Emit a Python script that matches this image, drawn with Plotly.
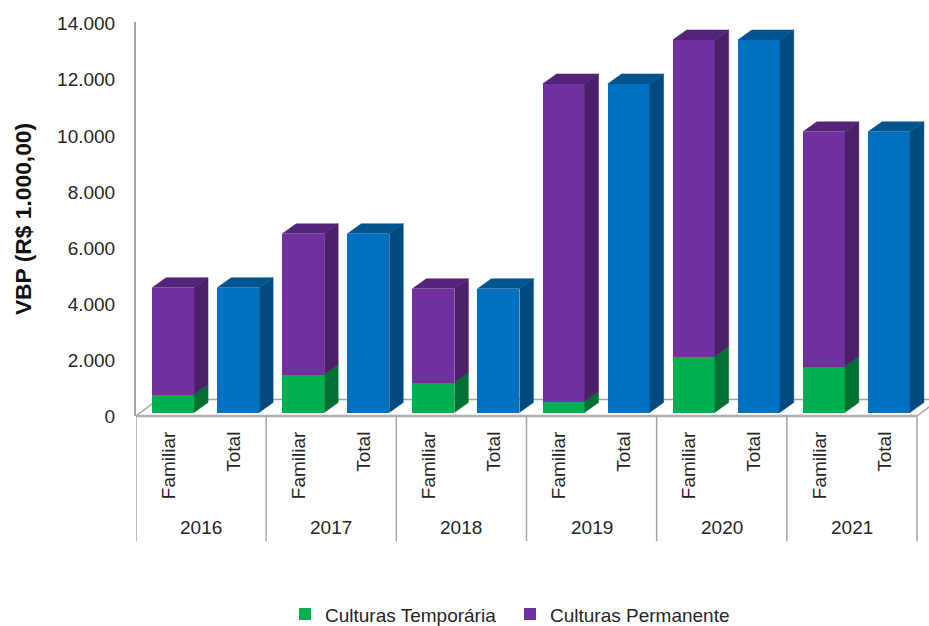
import plotly.graph_objects as go

# ---- data ----
years = ["2016", "2017", "2018", "2019", "2020", "2021"]
bar_labels = ["Familiar", "Total"]
temporaria = [640, 1355, 1070, 390, 1996, 1640]
familiar_total = [4456, 6381, 4420, 11729, 13298, 10018]
total = [4456, 6381, 4420, 11729, 13298, 10018]
y_ticks = [0, 2000, 4000, 6000, 8000, 10000, 12000, 14000]
y_tick_text = ["0", "2.000", "4.000", "6.000", "8.000", "10.000", "12.000", "14.000"]

# ---- style ----
W, H = 929, 626
L, T, B = 136, 22, 626 - 416.5
SLOT_PX = 65.08
Y_PX = 0.02805
plot_h = H - T - B
plot_w = W - L
GREEN, GREEN_S = "#00B050", "#007033"
PURPLE, PURPLE_T, PURPLE_S = "#7030A0", "#54247A", "#4A2068"
BLUE, BLUE_T, BLUE_S = "#0070C0", "#00558F", "#004A80"
AXIS = "#A6A6A6"
TXT = "#262626"
FONT = "Liberation Sans, Arial, sans-serif"
FS = 19

DX = 14 / SLOT_PX      # depth of a box, x units
DY = 10 / Y_PX         # depth of a box, y units
FLOOR = 3.5 / Y_PX     # bars stand a little behind the front edge
SHIFT = 4.5 / SLOT_PX  # bar offset inside its slot
BW = 42 / SLOT_PX
FLOOR_BACK = 16.5 / Y_PX

fam_x = [2 * i + SHIFT for i in range(len(years))]
tot_x = [2 * i + 1 + SHIFT for i in range(len(years))]
permanente = [t - g for t, g in zip(familiar_total, temporaria)]

fig = go.Figure()


def poly(xs, ys, color):
    fig.add_trace(go.Scatter(x=xs, y=ys, mode="lines", fill="toself", fillcolor=color,
                             line=dict(color=color, width=0.5), hoverinfo="skip",
                             showlegend=False))


fig.add_trace(go.Bar(x=fam_x, y=temporaria, base=[FLOOR] * 6, width=BW,
                     marker=dict(color=GREEN, line_width=0), name="Culturas Temporária"))
fig.add_trace(go.Bar(x=fam_x, y=permanente, base=[FLOOR + g for g in temporaria], width=BW,
                     marker=dict(color=PURPLE, line_width=0), name="Culturas Permanente"))
fig.add_trace(go.Bar(x=tot_x, y=total, base=[FLOOR] * 6, width=BW,
                     marker=dict(color=BLUE, line_width=0), name="Total", showlegend=False))

for x, g, t in zip(fam_x, temporaria, familiar_total):
    r = x + BW / 2
    l = x - BW / 2
    poly([r, r + DX, r + DX, r], [FLOOR, FLOOR + DY, FLOOR + g + DY, FLOOR + g], GREEN_S)
    poly([r, r + DX, r + DX, r], [FLOOR + g, FLOOR + g + DY, FLOOR + t + DY, FLOOR + t], PURPLE_S)
    poly([l, l + DX, r + DX, r], [FLOOR + t, FLOOR + t + DY, FLOOR + t + DY, FLOOR + t], PURPLE_T)
for x, t in zip(tot_x, total):
    r = x + BW / 2
    l = x - BW / 2
    poly([r, r + DX, r + DX, r], [FLOOR, FLOOR + DY, FLOOR + t + DY, FLOOR + t], BLUE_S)
    poly([l, l + DX, r + DX, r], [FLOOR + t, FLOOR + t + DY, FLOOR + t + DY, FLOOR + t], BLUE_T)

x_left = -0.5
x_right = 2 * len(years) - 0.5
x_max = x_left + (W - L) / SLOT_PX
wall = 22 / SLOT_PX

shapes = [
    dict(type="line", layer="below", xref="x", yref="y", x0=x_left, y0=0, x1=x_left + wall, y1=FLOOR_BACK,
         line=dict(color=AXIS, width=1.5)),
    dict(type="line", layer="below", xref="x", yref="y", x0=x_left + wall, y0=FLOOR_BACK, x1=x_max, y1=FLOOR_BACK,
         line=dict(color=AXIS, width=1.5)),
    dict(type="line", layer="below", xref="x", yref="y", x0=x_right, y0=0, x1=x_right + wall, y1=FLOOR_BACK,
         line=dict(color=AXIS, width=1.5)),
    dict(type="line", xref="x", yref="paper", x0=x_left, y0=0, x1=x_right, y1=0,
         line=dict(color="#B0B0B0", width=2.5)),
]
sep_bottom = -(542 - 416.5) / plot_h
for i in range(len(years) + 1):
    xs = x_left + 2 * i
    shapes.append(dict(type="line", xref="x", yref="paper", x0=xs, x1=xs, y0=0, y1=sep_bottom,
                       line=dict(color=AXIS, width=1.5)))

annotations = [
    dict(text=y, xref="x", yref="paper", x=2 * i + 0.5, y=-(528 - 416.5) / plot_h,
         showarrow=False, xanchor="center", yanchor="middle",
         font=dict(family=FONT, size=FS, color=TXT))
    for i, y in enumerate(years)
]

fig.update_layout(
    width=W, height=H, autosize=False,
    margin=dict(l=L, r=0, t=T, b=B, pad=0, autoexpand=False),
    paper_bgcolor="white", plot_bgcolor="white",
    barmode="overlay", bargap=0,
    shapes=shapes, annotations=annotations,
    font=dict(family=FONT, size=FS, color=TXT),
    legend=dict(orientation="h", x=(285 - L) / plot_w, xref="paper", xanchor="left",
                y=-(615 - 416.5) / plot_h, yanchor="middle",
                entrywidth=180, entrywidthmode="pixels",
                font=dict(family=FONT, size=FS, color=TXT), bgcolor="rgba(0,0,0,0)",
                traceorder="normal"),
    xaxis=dict(range=[x_left, x_max], tickmode="array",
               tickvals=list(range(2 * len(years))), ticktext=bar_labels * len(years),
               tickangle=-90, ticks="outside", ticklen=7, tickcolor="rgba(0,0,0,0)",
               showgrid=False, zeroline=False, showline=False, automargin=False,
               tickfont=dict(family=FONT, size=FS, color=TXT)),
    yaxis=dict(range=[0, plot_h / Y_PX], tickmode="array", tickvals=y_ticks, ticktext=y_tick_text,
               ticks="outside", ticklen=15, tickcolor="rgba(0,0,0,0)",
               showgrid=False, zeroline=False, showline=True, linecolor=AXIS, linewidth=2,
               automargin=False, tickfont=dict(family=FONT, size=FS, color=TXT),
               title=dict(text="<b>VBP (R$ 1.000,00)</b>", standoff=19,
                          font=dict(family=FONT, size=22.8, color="#111111"))),
)

fig.write_html("out.html", post_script="document.body.style.margin='0';",
               config=dict(displayModeBar=False))
